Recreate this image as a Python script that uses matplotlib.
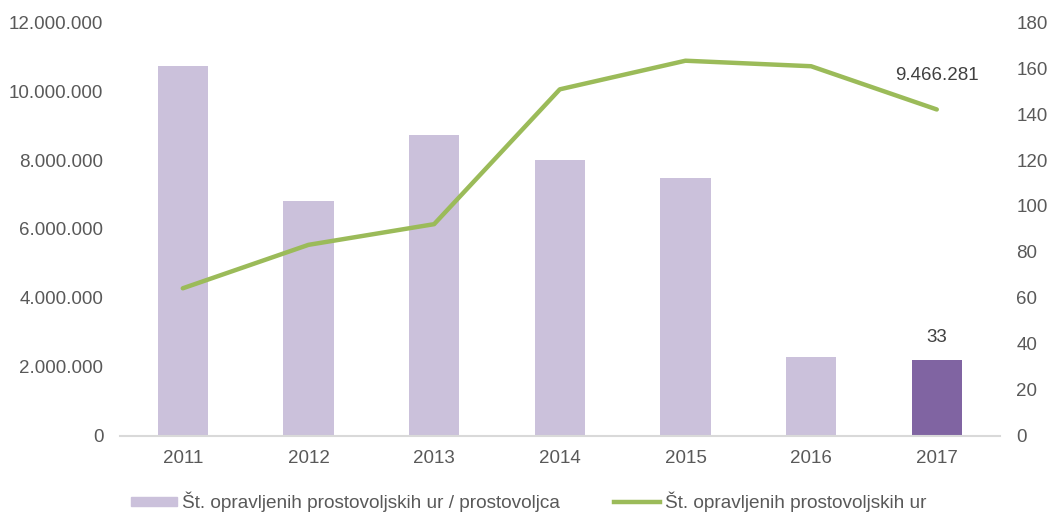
import numpy as np
import matplotlib.pyplot as plt
from matplotlib.ticker import FuncFormatter
from matplotlib.patches import Patch
from matplotlib.lines import Line2D

plt.rcParams['font.family'] = ['Liberation Sans', 'DejaVu Sans']

years = ['2011', '2012', '2013', '2014', '2015', '2016', '2017']
hours_per_volunteer = [161, 102, 131, 120, 112, 34.5, 33]
hours_total = [4280000, 5540000, 6140000, 10050000, 10880000, 10720000, 9466281]

bar_label = 'Št. opravljenih prostovoljskih ur / prostovoljca'
line_label = 'Št. opravljenih prostovoljskih ur'

light_purple = '#CBC1DB'
dark_purple = '#8064A2'
green = '#9BBB59'
text_gray = '#595959'

fig = plt.figure(figsize=(10.56, 5.14), dpi=100)
ax = fig.add_axes([0.1136, 0.152, 0.833, 0.805])
ax2 = ax.twinx()

x = np.arange(len(years))
colors = [light_purple] * (len(years) - 1) + [dark_purple]
ax2.bar(x, hours_per_volunteer, width=0.4, color=colors, zorder=2)
ax.plot(x, hours_total, color=green, lw=3.2, solid_capstyle='round', zorder=3)

ax.set_zorder(ax2.get_zorder() + 1)
ax.patch.set_visible(False)

ax.set_xlim(-0.5, len(years) - 0.5)
ax.set_ylim(0, 12000000)
ax2.set_ylim(0, 180)
ax.set_yticks(np.arange(0, 12000001, 2000000))
ax2.set_yticks(np.arange(0, 181, 20))
ax.yaxis.set_major_formatter(FuncFormatter(lambda v, p: f'{int(v):,}'.replace(',', '.')))
ax.set_xticks(x)
ax.set_xticklabels(years)

for a in (ax, ax2):
    for s in a.spines.values():
        s.set_visible(False)
    a.tick_params(length=0, labelsize=13.5, colors=text_gray)
ax.spines['bottom'].set_visible(True)
ax.spines['bottom'].set_color('#D9D9D9')
ax.spines['bottom'].set_linewidth(1.5)
ax.tick_params(axis='y', pad=12)
ax.tick_params(axis='x', pad=10)
ax2.tick_params(axis='y', pad=12)

ax.annotate(f'{hours_total[-1]:,}'.replace(',', '.'), (x[-1], hours_total[-1]),
            xytext=(0, 18), textcoords='offset points', ha='center', va='bottom',
            fontsize=13.5, color='#404040')
ax2.annotate(f'{hours_per_volunteer[-1]:g}', (x[-1], hours_per_volunteer[-1]),
             xytext=(0, 10), textcoords='offset points', ha='center', va='bottom',
             fontsize=13.5, color='#404040')

handles = [Patch(color=light_purple), Line2D([], [], color=green, lw=3.2)]
fig.legend(handles, [bar_label, line_label], loc='lower left', bbox_to_anchor=(0.108, -0.03),
           ncol=2, frameon=False, fontsize=13.7, labelcolor=text_gray,
           handlelength=2.4, handleheight=0.42, handletextpad=0.27, columnspacing=2.85)

fig.savefig('out.png', dpi=100)
